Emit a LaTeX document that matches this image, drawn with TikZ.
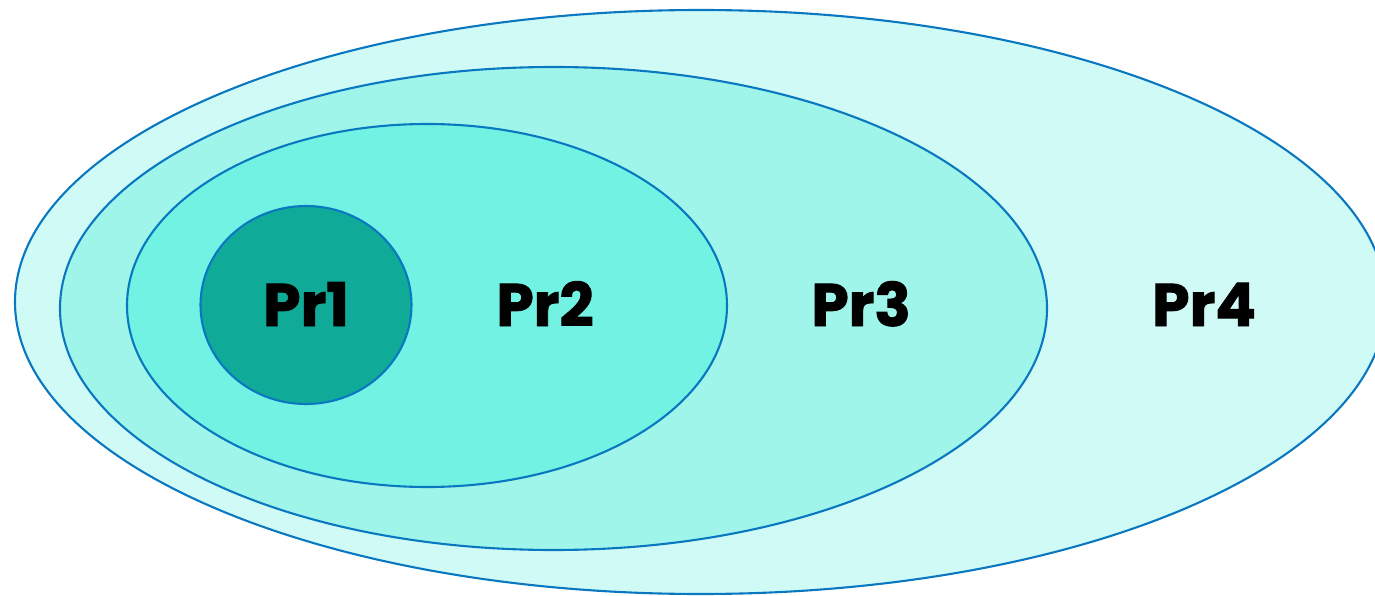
\documentclass[tikz,border=0pt]{standalone}
\usepackage{fontspec}
\setmainfont{Poppins}[BoldFeatures={FakeBold=1.6}]
\begin{document}
\begin{tikzpicture}[x=1pt,y=-1pt,
  ring/.style={draw=ringline,line width=2.1pt},
  lbl/.style={font=\fontsize{60}{60}\selectfont\bfseries,text=black,anchor=base,inner sep=0pt}]
\definecolor{ringline}{HTML}{0A78C0}
\definecolor{fillfour}{HTML}{D0FAF6}
\definecolor{fillthree}{HTML}{A0F5EA}
\definecolor{filltwo}{HTML}{72F2E2}
\definecolor{fillone}{HTML}{10AA98}
\useasboundingbox (0,0) rectangle (1375,596);
\filldraw[ring,fill=fillfour] (700.5,302) ellipse [x radius=685.5, y radius=292];
\filldraw[ring,fill=fillthree] (553.5,308.5) ellipse [x radius=493.5, y radius=241.5];
\filldraw[ring,fill=filltwo] (427,305.5) ellipse [x radius=300, y radius=181.5];
\filldraw[ring,fill=fillone] (306,305) ellipse [x radius=105.5, y radius=99];
\node[lbl] (p1) at (306,326) {Pr1};
\node[lbl] (p2) at (545,326) {Pr2};
\node[lbl] (p3) at (861,326) {Pr3};
\node[lbl] (p4) at (1204,326) {Pr4};
\end{tikzpicture}
\end{document}
